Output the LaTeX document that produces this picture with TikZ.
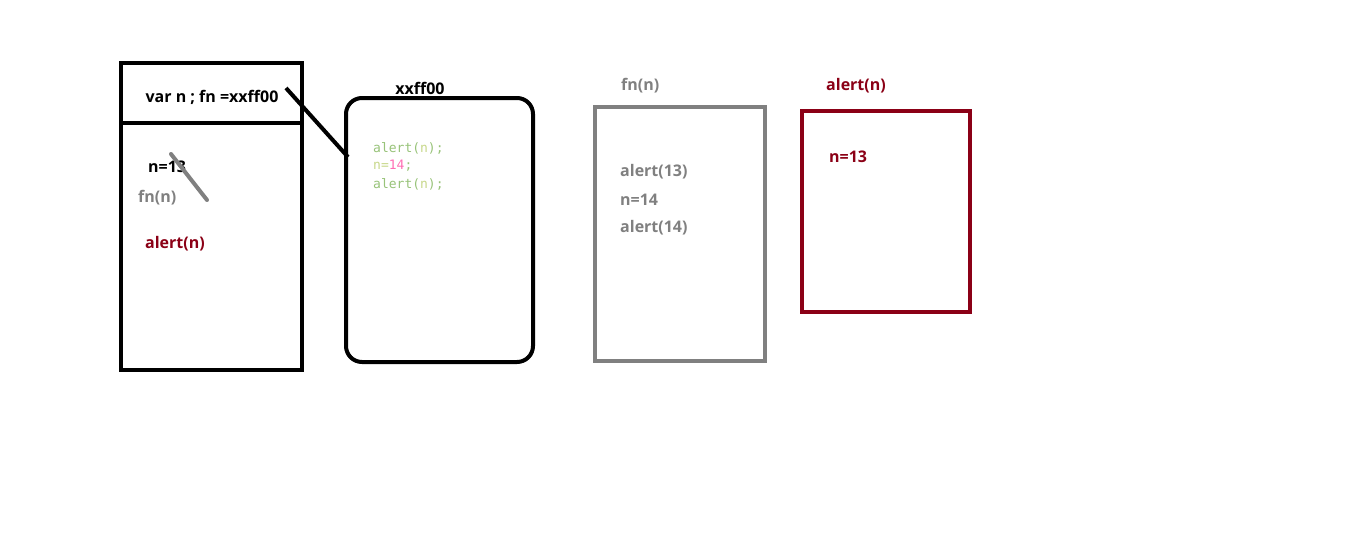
\documentclass[tikz,border=0pt]{standalone}
\usepackage{fontspec}
\setmainfont{Open Sans}
\setmonofont{DejaVu Sans Mono}
\usepackage{tikz}
\definecolor{darkred}{RGB}{139,0,22}
\definecolor{codegreen}{RGB}{152,195,121}
\definecolor{codeyellow}{RGB}{200,216,138}
\definecolor{codepink}{RGB}{255,110,180}
\tikzset{
  lbl/.style={font=\bfseries\fontsize{16}{18}\selectfont, inner sep=0pt},
  code/.style={font=\ttfamily\fontsize{13}{15}\selectfont, inner sep=0pt, anchor=west}
}
\begin{document}
\begin{tikzpicture}[x=1pt,y=-1pt]
\useasboundingbox (0,0) rectangle (1357,541);
\fill[white] (0,0) rectangle (1357,541);
% scope box
\draw[black,line width=4] (121,63) rectangle (302,370);
\draw[black,line width=4] (121,123) -- (302,123);
\node[lbl] (V) at (212,97) {var n ; fn =xxff00};
\node[lbl,anchor=west] (N) at (148,167) {n=13};
\draw[gray,line width=4,line cap=round] (171,154) -- (207,200);
\node[lbl,anchor=west,gray] (F) at (138,198) {fn(n)};
\node[lbl,anchor=west,darkred] (A) at (145,244) {alert(n)};
% function object
\draw[black,line width=4,rounded corners=16] (346,98) rectangle (533,362);
\node[lbl] (X) at (420,88) {xxff00};
\node[code,codegreen] (C1) at (373,148) {alert(\textcolor{codeyellow}{n});};
\node[code,codeyellow] (C2) at (373,166) {n=\textcolor{codepink}{14}\textcolor{codegreen}{;}};
\node[code,codegreen] (C3) at (373,184) {alert(\textcolor{codeyellow}{n});};
\coordinate (p) at (286,88);
\coordinate (q) at (348,157);
\draw[black,line width=4] (p) -- (q);
% fn(n) call
\draw[gray,line width=4] (595,107) rectangle (765,361);
\node[lbl,anchor=west,gray] (G) at (621,86) {fn(n)};
\node[lbl,anchor=west,gray] (G1) at (620,172) {alert(13)};
\node[lbl,anchor=west,gray] (G2) at (620,200) {n=14};
\node[lbl,anchor=west,gray] (G3) at (620,228) {alert(14)};
% alert(n) call
\draw[darkred,line width=4] (802,111) rectangle (970,312);
\node[lbl,anchor=west,darkred] (R) at (826,86) {alert(n)};
\node[lbl,anchor=west,darkred] (R1) at (829,157) {n=13};
\end{tikzpicture}
\end{document}
